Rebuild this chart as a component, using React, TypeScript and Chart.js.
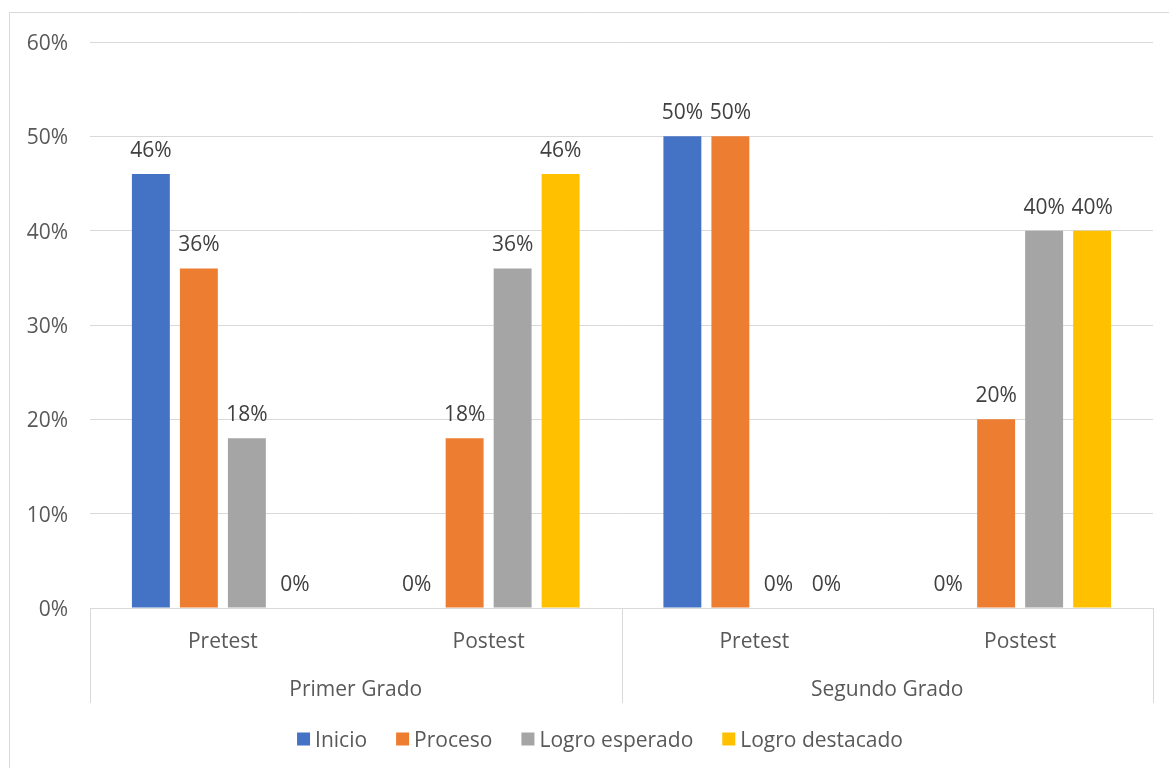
import { useEffect, useRef } from "react";
import { Chart, registerables } from "chart.js";

Chart.register(...registerables);

// Categories: test moment within each grade
const grades = ["Primer Grado", "Segundo Grado"];
const tests = ["Pretest", "Postest", "Pretest", "Postest"];
const gradeOfTest = [0, 0, 1, 1];

// Series (percent of students per achievement level)
const seriesNames = ["Inicio", "Proceso", "Logro esperado", "Logro destacado"];
const seriesColors = ["#4472C4", "#ED7D31", "#A5A5A5", "#FFC000"];
const inicio = [46, 0, 50, 0];
const proceso = [36, 18, 50, 20];
const logroEsperado = [18, 36, 0, 40];
const logroDestacado = [0, 46, 0, 40];
const seriesValues = [inicio, proceso, logroEsperado, logroDestacado];

// Value axis
const yMin = 0;
const yMax = 60;
const yStep = 10;

const W = 1169;
const H = 768;
const FONT = "'Open Sans'";
const FONT_SIZE = 21;

const decorPlugin = {
  id: "decor",
  beforeDraw(chart: any) {
    const ctx = chart.ctx;
    ctx.save();
    ctx.fillStyle = "#ffffff";
    ctx.fillRect(0, 0, W, H);
    ctx.strokeStyle = "#d9d9d9";
    ctx.lineWidth = 1;
    ctx.beginPath();
    ctx.moveTo(9.5, H);
    ctx.lineTo(9.5, 12.5);
    ctx.lineTo(W, 12.5);
    ctx.stroke();
    ctx.restore();
  },
  afterDatasetsDraw(chart: any) {
    const ctx = chart.ctx;
    ctx.save();
    ctx.font = `${FONT_SIZE}px ${FONT}`;
    ctx.fillStyle = "#404040";
    ctx.textAlign = "center";
    ctx.textBaseline = "middle";
    chart.data.datasets.forEach((ds: any, i: number) => {
      const meta = chart.getDatasetMeta(i);
      meta.data.forEach((el: any, j: number) => {
        ctx.fillText(`${ds.data[j]}%`, el.x, el.y - 23);
      });
    });
    ctx.restore();
  },
  afterDraw(chart: any) {
    const ctx = chart.ctx;
    const { left, right, bottom } = chart.chartArea;
    const xs = chart.scales.x;
    const centers = tests.map((_, i) => xs.getPixelForValue(i));
    ctx.save();

    // Group separators below the axis
    const sepBottom = bottom + 95;
    const edges = [left];
    for (let i = 1; i < tests.length; i++) {
      if (gradeOfTest[i] !== gradeOfTest[i - 1]) edges.push((centers[i] + centers[i - 1]) / 2);
    }
    edges.push(right);
    ctx.strokeStyle = "#d9d9d9";
    ctx.lineWidth = 1;
    edges.forEach((x) => {
      const px = Math.round(x) + 0.5;
      ctx.beginPath();
      ctx.moveTo(px, bottom);
      ctx.lineTo(px, sepBottom);
      ctx.stroke();
    });

    // Category labels
    ctx.font = `${FONT_SIZE}px ${FONT}`;
    ctx.fillStyle = "#595959";
    ctx.textAlign = "center";
    ctx.textBaseline = "middle";
    tests.forEach((t, i) => ctx.fillText(t, centers[i], bottom + 34));
    grades.forEach((g, gi) => {
      const idx = gradeOfTest.map((v, i) => (v === gi ? i : -1)).filter((i) => i >= 0);
      const cx = idx.reduce((s, i) => s + centers[i], 0) / idx.length;
      ctx.fillText(g, cx, bottom + 82);
    });

    // Legend
    const box = 13;
    const gapText = 5;
    const gapItem = 29;
    const widths = seriesNames.map((n) => box + gapText + ctx.measureText(n).width);
    const total = widths.reduce((a, b) => a + b, 0) + gapItem * (seriesNames.length - 1);
    let x = 600 - total / 2;
    const ly = 739;
    ctx.textAlign = "left";
    seriesNames.forEach((n, i) => {
      ctx.fillStyle = seriesColors[i];
      ctx.fillRect(x, ly - box / 2, box, box);
      ctx.fillStyle = "#595959";
      ctx.fillText(n, x + box + gapText, ly + 2);
      x += widths[i] + gapItem;
    });
    ctx.restore();
  },
};

export default function App() {
  const canvasRef = useRef<HTMLCanvasElement | null>(null);

  useEffect(() => {
    if (!canvasRef.current) return;
    Chart.defaults.font.family = FONT;
    Chart.defaults.font.size = FONT_SIZE;
    const chart = new Chart(canvasRef.current, {
      type: "bar",
      data: {
        labels: tests,
        datasets: seriesNames.map((name, i) => ({
          label: name,
          data: seriesValues[i],
          backgroundColor: seriesColors[i],
          borderWidth: 0,
          categoryPercentage: 0.7225,
          barPercentage: 0.79,
        })),
      },
      options: {
        animation: false,
        responsive: false,
        devicePixelRatio: 1,
        layout: { padding: { left: 0, top: 42, right: 16, bottom: 160 } },
        plugins: {
          legend: { display: false },
          tooltip: { enabled: false },
        },
        scales: {
          x: {
            display: false,
          },
          y: {
            min: yMin,
            max: yMax,
            border: { display: false },
            grid: { color: "#d9d9d9", drawTicks: false, lineWidth: 1 },
            ticks: {
              stepSize: yStep,
              padding: 22,
              labelOffset: 2,
              color: "#595959",
              font: { family: FONT, size: FONT_SIZE },
              callback: (v: any) => `${v}%`,
            },
            afterFit: (scale: any) => {
              scale.width = 90;
            },
          },
        },
      },
      plugins: [decorPlugin],
    });
    return () => chart.destroy();
  }, []);

  return (
    <div style={{ position: "fixed", left: 0, top: 0, width: W, height: H, background: "#fff" }}>
      <canvas ref={canvasRef} width={W} height={H} style={{ display: "block" }} />
    </div>
  );
}
